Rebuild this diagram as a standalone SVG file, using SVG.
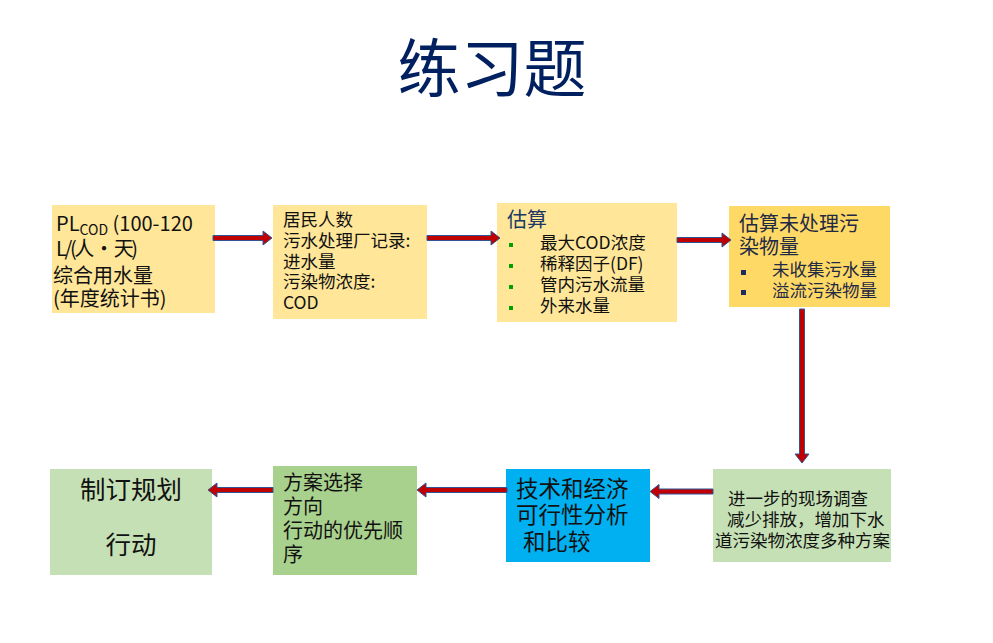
<svg xmlns="http://www.w3.org/2000/svg" width="993" height="643" viewBox="0 0 993 643">
<style>
text{font-family:"Noto Sans CJK SC","Noto Sans",sans-serif;fill:#111}
.t17{font-size:17.5px}
.t19{font-size:19px}
.t20{font-size:20px}
.arr{fill:#C00000;stroke:#2F5597;stroke-width:1}
</style>
<rect width="993" height="643" fill="#fff"/>
<text x="492" y="91" text-anchor="middle" style="font-size:63px;fill:#002060">练习题</text>
<g id="n1">
<rect x="52" y="205" width="163" height="108" fill="#FFE699"/>
<text x="56" y="231" class="t20">PL<tspan font-size="14" dy="4">COD</tspan><tspan dy="-4"> (100-120</tspan></text>
<text x="56" y="256" class="t20" textLength="82" lengthAdjust="spacing">L/(人 · 天)</text>
<text x="53" y="283" class="t20">综合用水量</text>
<text x="53" y="306" class="t20">(年度统计书)</text>
</g>
<g id="n2">
<rect x="273" y="205" width="154" height="114" fill="#FFE699"/>
<text x="283" y="226" class="t17">居民人数</text>
<text x="283" y="247" class="t17">污水处理厂记录:</text>
<text x="283" y="268" class="t17">进水量</text>
<text x="283" y="288" class="t17">污染物浓度:</text>
<text x="283" y="309" class="t17">COD</text>
</g>
<g id="n3">
<rect x="497" y="203" width="180" height="119" fill="#FFE699"/>
<text x="507" y="227" class="t20" style="fill:#203864">估算</text>
<rect x="509" y="243" width="4" height="4" fill="#00A000"/>
<rect x="509" y="264" width="4" height="4" fill="#00A000"/>
<rect x="509" y="285" width="4" height="4" fill="#00A000"/>
<rect x="509" y="306" width="4" height="4" fill="#00A000"/>
<text x="540" y="249" class="t17">最大COD浓度</text>
<text x="540" y="270" class="t17">稀释因子(DF)</text>
<text x="540" y="291" class="t17">管内污水流量</text>
<text x="540" y="312" class="t17">外来水量</text>
</g>
<g id="n4">
<rect x="729" y="206" width="161" height="101" fill="#FFD966"/>
<text x="739" y="231" class="t20" style="fill:#1F2A44">估算未处理污</text>
<text x="739" y="254" class="t20" style="fill:#1F2A44">染物量</text>
<rect x="741" y="270" width="5" height="5" fill="#1F2A60"/>
<rect x="741" y="290" width="5" height="5" fill="#1F2A60"/>
<text x="772" y="276" class="t17" style="fill:#1F2A44">未收集污水量</text>
<text x="772" y="297" class="t17" style="fill:#1F2A44">溢流污染物量</text>
</g>
<g id="n5">
<rect x="50" y="469" width="162" height="106" fill="#C5E0B4"/>
<text x="131" y="499" text-anchor="middle" style="font-size:25.5px">制订规划</text>
<text x="131" y="554" text-anchor="middle" style="font-size:25.5px">行动</text>
</g>
<g id="n6">
<rect x="273" y="466" width="144" height="109" fill="#A9D18E"/>
<text x="283" y="490" class="t20">方案选择</text>
<text x="283" y="514" class="t20">方向</text>
<text x="283" y="538" class="t20">行动的优先顺</text>
<text x="283" y="562" class="t20">序</text>
</g>
<g id="n7">
<rect x="506" y="469" width="144" height="93" fill="#00B0F0"/>
<text x="516" y="497" style="font-size:22.5px">技术和经济</text>
<text x="516" y="523" style="font-size:22.5px">可行性分析</text>
<text x="523" y="550" style="font-size:22.5px">和比较</text>
</g>
<g id="n8">
<rect x="713" y="469" width="178" height="93" fill="#C5E0B4"/>
<text x="728" y="505" class="t17">进一步的现场调查</text>
<text x="727" y="526" class="t17">减少排放，增加下水</text>
<text x="715" y="547" class="t17">道污染物浓度多种方案</text>
</g>
<g id="connectors">
<path class="arr" d="M213,235.5 H263 V231 L272,238 L263,245 V240.5 H213 Z"/>
<path class="arr" d="M427,235.5 H491 V231 L500,238 L491,245 V240.5 H427 Z"/>
<path class="arr" d="M677,237.5 H722 V233 L731,240 L722,247 V242.5 H677 Z"/>
<path class="arr" d="M799.5,309 V454 H795 L802,463 L809,454 H804.5 V309 Z"/>
<path class="arr" d="M713,489 H659 V484.5 L650,491.5 L659,498.5 V494 H713 Z"/>
<path class="arr" d="M507,487.5 H426 V483 L417,490 L426,497 V492.5 H507 Z"/>
<path class="arr" d="M273,487.5 H217 V483 L208,490 L217,497 V492.5 H273 Z"/>
</g>
</svg>
